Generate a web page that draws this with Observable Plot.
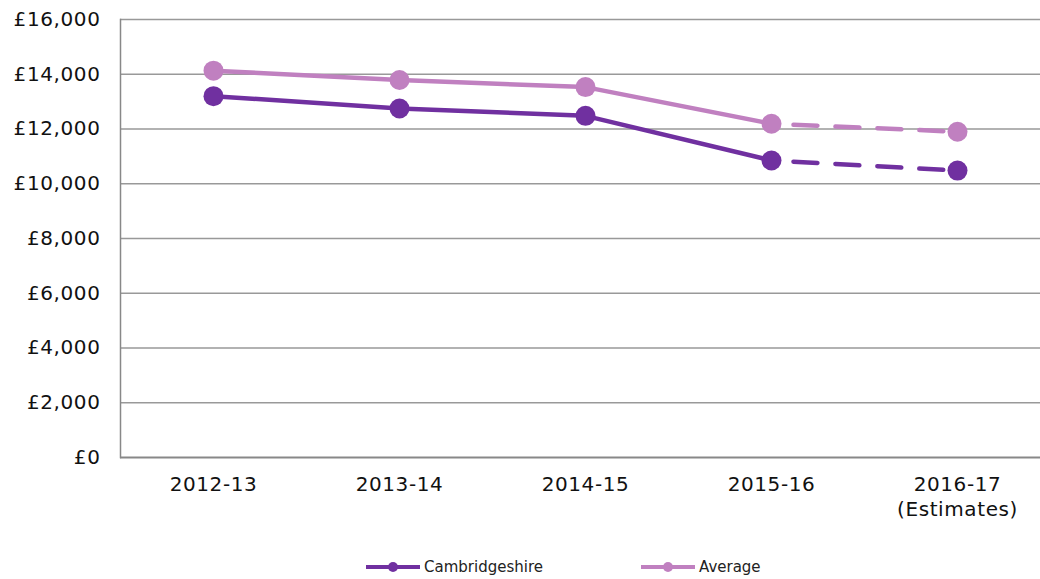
<!DOCTYPE html>
<html><head><meta charset="utf-8">
<script src="https://cdn.jsdelivr.net/npm/d3@7"></script>
<script src="https://cdn.jsdelivr.net/npm/@observablehq/plot@0.6"></script>
<style>
body{margin:0;background:#fff;font-family:"DejaVu Sans",Verdana,sans-serif;}
#chart{position:relative;width:1040px;height:579px;overflow:hidden;}
#chart svg{display:block;}
.item{position:absolute;top:557px;height:20px;display:flex;align-items:center;font-size:15px;color:#222;}
.item svg{margin-right:4px;}
.ax text{letter-spacing:0.6px;}
</style></head><body><div id="chart"></div>
<script>
const years = ["2012-13","2013-14","2014-15","2015-16","2016-17"];
const tickLabels = ["2012-13","2013-14","2014-15","2015-16","2016-17\n(Estimates)"];
const seriesNames = ["Cambridgeshire","Average"];
const cambridgeshire = [13200, 12750, 12480, 10850, 10480];
const average = [14130, 13790, 13530, 12190, 11900];
const seriesColors = ["#7030A0","#C080C0"];
const yTicks = [0,2000,4000,6000,8000,10000,12000,14000,16000];
const firstEstimate = 3; // line becomes dashed from 2015-16 onward

const values = [cambridgeshire, average];
const rows = [];
seriesNames.forEach((s, k) => years.forEach((y, i) => rows.push({series: s, year: y, value: values[k][i], i, color: seriesColors[k]})));

const marks = [
  Plot.gridY(yTicks.slice(1), {stroke: "#999", strokeOpacity: 1, strokeWidth: 1.5}),
  Plot.frame({anchor: "left", stroke: "#888", strokeWidth: 1.5}),
  Plot.ruleY([0], {stroke: "#888", strokeWidth: 2}),
  Plot.axisY({ticks: yTicks, tickFormat: d => "£" + d3.format(",")(d), tickSize: 0, tickPadding: 20, fontSize: 20, label: null, fill: "#111", className: "ax"}),
  Plot.axisX({tickSize: 0, tickPadding: 16, fontSize: 20, lineHeight: 1.25, label: null, fill: "#111", className: "ax", tickFormat: d => tickLabels[years.indexOf(d)]})
];
seriesNames.forEach((s, k) => {
  const r = rows.filter(d => d.series === s);
  marks.push(Plot.line(r.filter(d => d.i <= firstEstimate), {x: "year", y: "value", stroke: seriesColors[k], strokeWidth: 4.5}));
  marks.push(Plot.line(r.filter(d => d.i >= firstEstimate), {x: "year", y: "value", stroke: seriesColors[k], strokeWidth: 4.5, strokeDasharray: "24,18", strokeDashoffset: 20}));
});
seriesNames.forEach((s, k) => {
  marks.push(Plot.dot(rows.filter(d => d.series === s), {x: "year", y: "value", r: 10, fill: seriesColors[k], stroke: "none"}));
});

const chart = Plot.plot({
  width: 1040, height: 540,
  marginLeft: 120, marginRight: 0, marginTop: 19, marginBottom: 83,
  style: {fontFamily: '"DejaVu Sans", Verdana, sans-serif', background: "#fff"},
  x: {type: "point", domain: years, range: [119, 1051.5], padding: 0.5},
  y: {domain: [0, 16000]},
  marks
});
const root = document.getElementById("chart");
root.appendChild(chart);

const legendX = [366, 641];
seriesNames.forEach((s, k) => {
  const item = document.createElement("div");
  item.className = "item";
  item.style.left = legendX[k] + "px";
  item.innerHTML = `<svg width="54" height="12"><line x1="0" y1="6" x2="54" y2="6" stroke="${seriesColors[k]}" stroke-width="4"/><circle cx="27" cy="6" r="5" fill="${seriesColors[k]}"/></svg><span>${s}</span>`;
  root.appendChild(item);
});
</script></body></html>
